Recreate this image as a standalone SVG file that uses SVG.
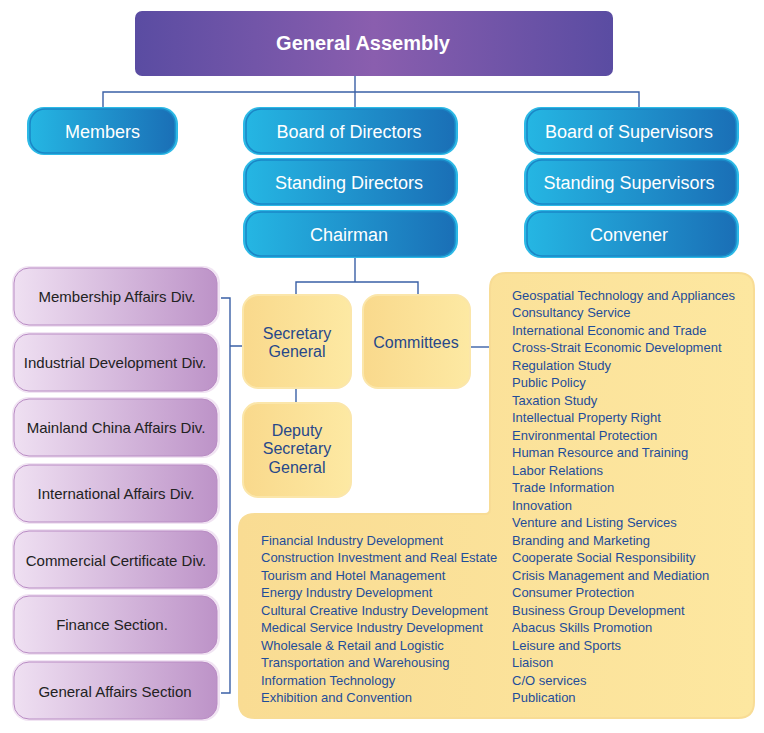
<svg xmlns="http://www.w3.org/2000/svg" width="764" height="733" viewBox="0 0 764 733">
<defs>
<linearGradient id="gPurpleTop" x1="0" y1="0" x2="1" y2="0">
<stop offset="0" stop-color="#5a4ca2"/>
<stop offset="0.5" stop-color="#8a5eae"/>
<stop offset="1" stop-color="#5a4ca2"/>
</linearGradient>
<linearGradient id="gBlue" x1="0" y1="0" x2="1" y2="0">
<stop offset="0" stop-color="#25b6e3"/>
<stop offset="1" stop-color="#1a6fb6"/>
</linearGradient>
<linearGradient id="gPurple" x1="0" y1="0" x2="1" y2="0">
<stop offset="0" stop-color="#efe0f2"/>
<stop offset="1" stop-color="#bd93c8"/>
</linearGradient>
<linearGradient id="gYellow" x1="0" y1="0" x2="1" y2="0">
<stop offset="0" stop-color="#f9d98c"/>
<stop offset="1" stop-color="#fde9a3"/>
</linearGradient>
<linearGradient id="gBig" x1="0" y1="0" x2="1" y2="0">
<stop offset="0" stop-color="#f9dc93"/>
<stop offset="1" stop-color="#fde7a0"/>
</linearGradient>
</defs>
<style>
.conn{fill:none;stroke:#3a60a6;stroke-width:1.4}
.bo{fill:#2cb9e6}
.bi{fill:url(#gBlue);stroke:#1a86c6;stroke-width:1.5}
.bt{font-family:"Liberation Sans",Arial,sans-serif;font-size:18px;fill:#ffffff;text-anchor:middle}
.po{fill:#f1e4f3}
.pi{fill:url(#gPurple);stroke:#b98cc4;stroke-width:1}
.pt{font-family:"Liberation Sans",Arial,sans-serif;font-size:15px;fill:#222222;text-anchor:middle}
.yb{fill:url(#gYellow);stroke:#fbe6aa;stroke-width:2}
.yt{font-family:"Liberation Sans",Arial,sans-serif;font-size:16px;fill:#27488a;text-anchor:middle}
.lt{font-family:"Liberation Sans",Arial,sans-serif;font-size:13px;fill:#1f4d9a}
</style>

<g id="connectors">
<path class="conn" d="M355 76 V107 M103 107 V92 H639 V107"/>
<path class="conn" d="M355 258 V282 M296 295 V282 H418 V295"/>
<path class="conn" d="M296 388 V403"/>
<path class="conn" d="M470 347 H490"/>
<path class="conn" d="M221 298 H230 V693 H221 M230 346 H243"/>
</g>

<g id="general-assembly">
<rect x="135" y="11" width="478" height="65" rx="7" fill="url(#gPurpleTop)"/>
<text x="363" y="50" font-family="Liberation Sans,Arial,sans-serif" font-size="20" font-weight="bold" fill="#ffffff" text-anchor="middle">General Assembly</text>
</g>

<g id="members">
<rect class="bo" x="27" y="107" width="151" height="48" rx="17"/>
<rect class="bi" x="30" y="109" width="145" height="44" rx="15"/>
<text class="bt" x="102.5" y="138">Members</text>
</g>
<g id="board-of-directors">
<rect class="bo" x="243" y="107" width="215" height="48" rx="17"/>
<rect class="bi" x="246" y="109" width="209" height="44" rx="15"/>
<text class="bt" x="349" y="138">Board of Directors</text>
</g>
<g id="standing-directors">
<rect class="bo" x="243" y="158" width="215" height="48" rx="17"/>
<rect class="bi" x="246" y="160" width="209" height="44" rx="15"/>
<text class="bt" x="349" y="189">Standing Directors</text>
</g>
<g id="chairman">
<rect class="bo" x="243" y="210" width="215" height="48" rx="17"/>
<rect class="bi" x="246" y="212" width="209" height="44" rx="15"/>
<text class="bt" x="349" y="241">Chairman</text>
</g>
<g id="board-of-supervisors">
<rect class="bo" x="524" y="107" width="215" height="48" rx="17"/>
<rect class="bi" x="527" y="109" width="209" height="44" rx="15"/>
<text class="bt" x="629" y="138">Board of Supervisors</text>
</g>
<g id="standing-supervisors">
<rect class="bo" x="524" y="158" width="215" height="48" rx="17"/>
<rect class="bi" x="527" y="160" width="209" height="44" rx="15"/>
<text class="bt" x="629" y="189">Standing Supervisors</text>
</g>
<g id="convener">
<rect class="bo" x="524" y="210" width="215" height="48" rx="17"/>
<rect class="bi" x="527" y="212" width="209" height="44" rx="15"/>
<text class="bt" x="629" y="241">Convener</text>
</g>

<g id="membership-affairs">
<rect class="po" x="12" y="266" width="208" height="61" rx="17"/>
<rect class="pi" x="14" y="268" width="203" height="57" rx="15"/>
<text class="pt" x="117" y="302">Membership Affairs Div.</text>
</g>
<g id="industrial-development">
<rect class="po" x="12" y="332" width="208" height="61" rx="17"/>
<rect class="pi" x="14" y="334" width="203" height="57" rx="15"/>
<text class="pt" x="115" y="368">Industrial Development Div.</text>
</g>
<g id="mainland-china-affairs">
<rect class="po" x="12" y="397" width="208" height="61" rx="17"/>
<rect class="pi" x="14" y="399" width="203" height="57" rx="15"/>
<text class="pt" x="116" y="433">Mainland China Affairs Div.</text>
</g>
<g id="international-affairs">
<rect class="po" x="12" y="463" width="208" height="61" rx="17"/>
<rect class="pi" x="14" y="465" width="203" height="57" rx="15"/>
<text class="pt" x="116" y="499">International Affairs Div.</text>
</g>
<g id="commercial-certificate">
<rect class="po" x="12" y="529" width="208" height="61" rx="17"/>
<rect class="pi" x="14" y="531" width="203" height="57" rx="15"/>
<text class="pt" x="116" y="566">Commercial Certificate Div.</text>
</g>
<g id="finance-section">
<rect class="po" x="12" y="594" width="208" height="61" rx="17"/>
<rect class="pi" x="14" y="596" width="203" height="57" rx="15"/>
<text class="pt" x="112" y="630">Finance Section.</text>
</g>
<g id="general-affairs">
<rect class="po" x="12" y="660" width="208" height="61" rx="17"/>
<rect class="pi" x="14" y="662" width="203" height="57" rx="15"/>
<text class="pt" x="115" y="697">General Affairs Section</text>
</g>

<g id="secretary-general">
<rect class="yb" x="243" y="295" width="108" height="93" rx="15"/>
<text class="yt" x="297" y="339">Secretary</text>
<text class="yt" x="297" y="357">General</text>
</g>
<g id="committees">
<rect class="yb" x="363" y="295" width="107" height="93" rx="15"/>
<text class="yt" x="416" y="348">Committees</text>
</g>
<g id="deputy-secretary-general">
<rect class="yb" x="243" y="403" width="108" height="94" rx="15"/>
<text class="yt" x="297" y="436">Deputy</text>
<text class="yt" x="297" y="454">Secretary</text>
<text class="yt" x="297" y="473">General</text>
</g>

<g id="committee-list">
<path d="M506 273 H738 Q754 273 754 289 V702 Q754 718 738 718 H255 Q239 718 239 702 V530 Q239 514 255 514 H485 Q490 514 490 509 V289 Q490 273 506 273 Z" fill="url(#gBig)" stroke="#f8dc95" stroke-width="2"/>
<text class="lt">
<tspan x="512" y="299.5">Geospatial Technology and Appliances</tspan>
<tspan x="512" y="317">Consultancy Service</tspan>
<tspan x="512" y="334.5">International Economic and Trade</tspan>
<tspan x="512" y="352">Cross-Strait Economic Development</tspan>
<tspan x="512" y="369.5">Regulation Study</tspan>
<tspan x="512" y="387">Public Policy</tspan>
<tspan x="512" y="404.5">Taxation Study</tspan>
<tspan x="512" y="422">Intellectual Property Right</tspan>
<tspan x="512" y="439.5">Environmental Protection</tspan>
<tspan x="512" y="457">Human Resource and Training</tspan>
<tspan x="512" y="474.5">Labor Relations</tspan>
<tspan x="512" y="492">Trade Information</tspan>
<tspan x="512" y="509.5">Innovation</tspan>
<tspan x="512" y="527">Venture and Listing Services</tspan>
<tspan x="512" y="544.5">Branding and Marketing</tspan>
<tspan x="512" y="562">Cooperate Social Responsibility</tspan>
<tspan x="512" y="579.5">Crisis Management and Mediation</tspan>
<tspan x="512" y="597">Consumer Protection</tspan>
<tspan x="512" y="614.5">Business Group Development</tspan>
<tspan x="512" y="632">Abacus Skills Promotion</tspan>
<tspan x="512" y="649.5">Leisure and Sports</tspan>
<tspan x="512" y="667">Liaison</tspan>
<tspan x="512" y="684.5">C/O services</tspan>
<tspan x="512" y="702">Publication</tspan>
</text>
<text class="lt">
<tspan x="261" y="544.5">Financial Industry Development</tspan>
<tspan x="261" y="562">Construction Investment and Real Estate</tspan>
<tspan x="261" y="579.5">Tourism and Hotel Management</tspan>
<tspan x="261" y="597">Energy Industry Development</tspan>
<tspan x="261" y="614.5">Cultural Creative Industry Development</tspan>
<tspan x="261" y="632">Medical Service Industry Development</tspan>
<tspan x="261" y="649.5">Wholesale &amp; Retail and Logistic</tspan>
<tspan x="261" y="667">Transportation and Warehousing</tspan>
<tspan x="261" y="684.5">Information Technology</tspan>
<tspan x="261" y="702">Exhibition and Convention</tspan>
</text>
</g>
</svg>
